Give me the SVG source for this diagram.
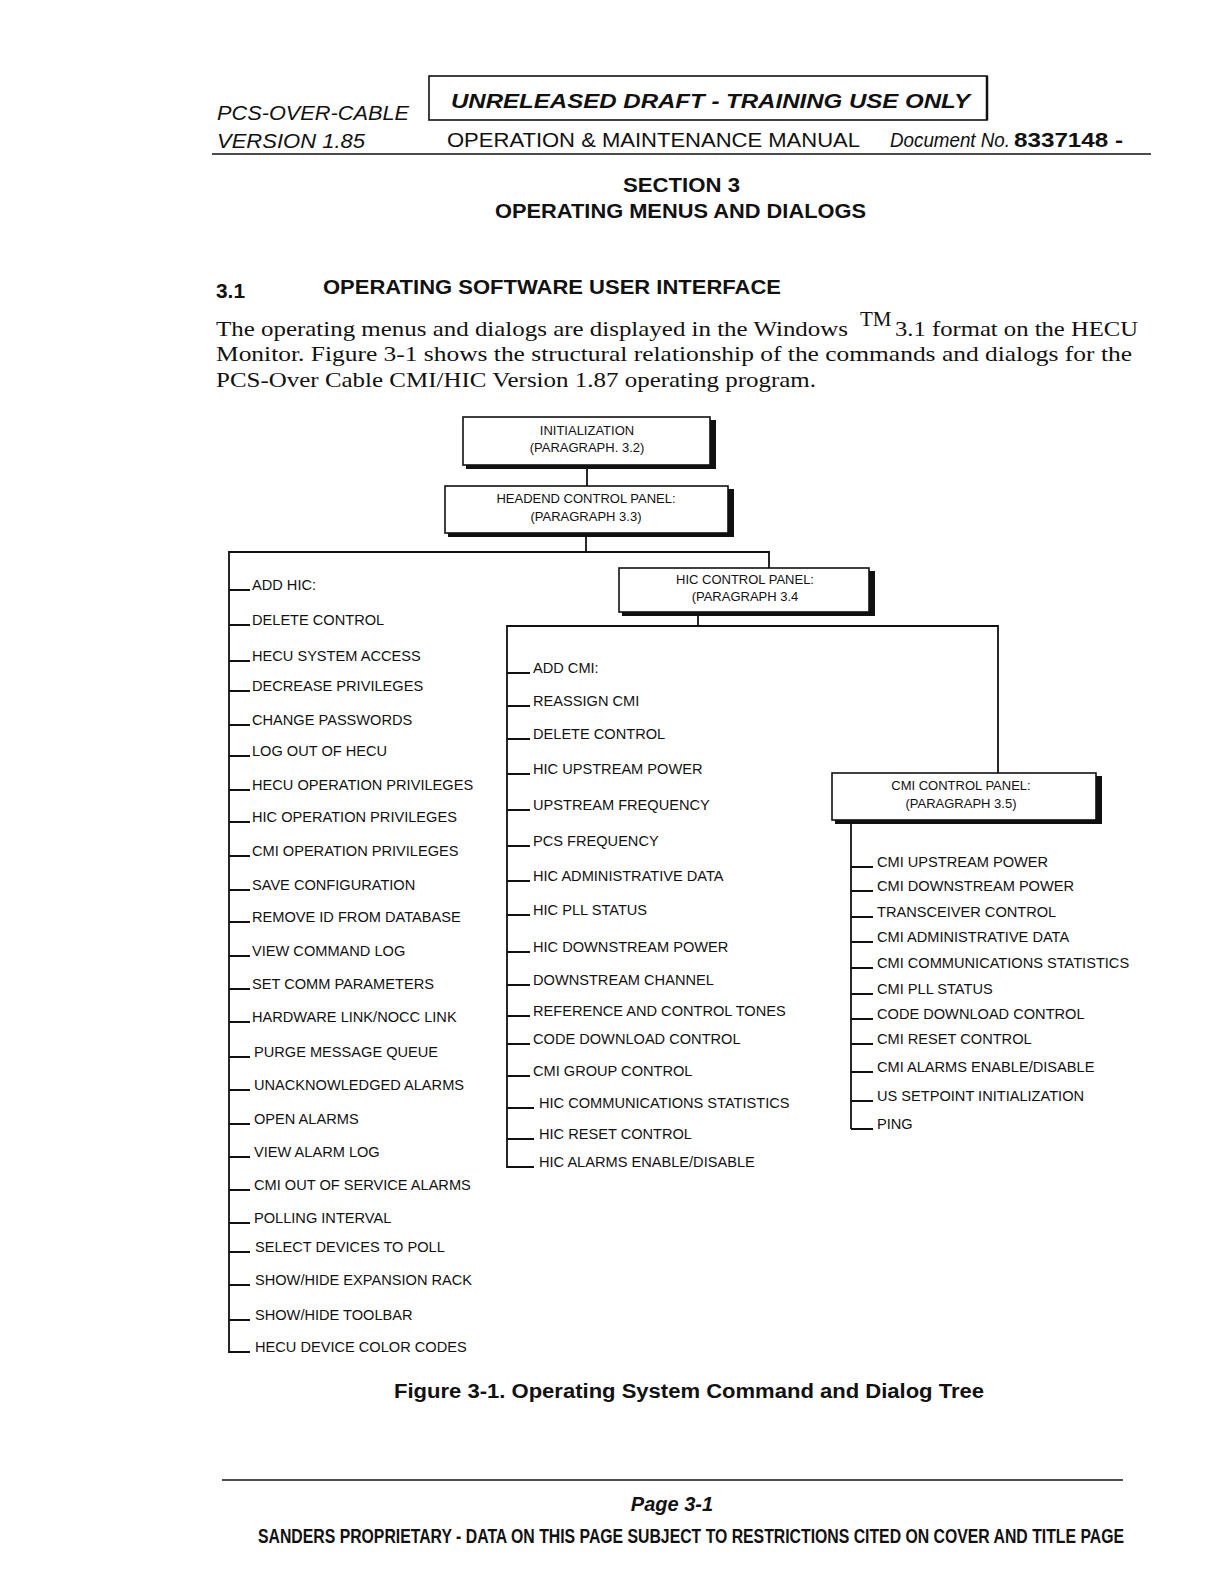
<svg xmlns="http://www.w3.org/2000/svg" width="1221" height="1584" viewBox="0 0 1221 1584">
<style>
.hdr{font-family:"Liberation Sans",Arial,sans-serif;font-size:20px;fill:#111}
.it{font-style:italic}
.b{font-weight:bold}
.ser{font-family:"Liberation Serif","Times New Roman",serif;font-size:21px;fill:#111}
.bx{font-family:"Liberation Sans",Arial,sans-serif;font-size:13px;fill:#111;text-anchor:middle}
.li{font-family:"Liberation Sans",Arial,sans-serif;font-size:14.6px;fill:#111}
.ln{stroke:#111;stroke-width:1.8;fill:none}
.box{fill:#fff;stroke:#111;stroke-width:1.6}
.sh{fill:#111}
</style>
<rect width="1221" height="1584" fill="#fff"/>

<!-- Header -->
<g id="header">
<text class="hdr it" x="217" y="120" textLength="192" lengthAdjust="spacingAndGlyphs">PCS-OVER-CABLE</text>
<text class="hdr it" x="217" y="148" textLength="148" lengthAdjust="spacingAndGlyphs">VERSION 1.85</text>
<rect x="429" y="76" width="558" height="44" fill="#fff" stroke="#111" stroke-width="1.6"/>
<line x1="987" y1="76" x2="987" y2="120" stroke="#111" stroke-width="2.5"/>
<text class="hdr it b" x="451" y="108" font-size="23" textLength="519" lengthAdjust="spacingAndGlyphs">UNRELEASED DRAFT - TRAINING USE ONLY</text>
<text class="hdr" x="447" y="147" textLength="413" lengthAdjust="spacingAndGlyphs">OPERATION &amp; MAINTENANCE MANUAL</text>
<text class="hdr it" x="890" y="147" textLength="120" lengthAdjust="spacingAndGlyphs">Document No.</text>
<text class="hdr b" x="1014" y="147" textLength="109" lengthAdjust="spacingAndGlyphs">8337148 -</text>
<line x1="212" y1="154" x2="1151" y2="154" stroke="#111" stroke-width="1.3"/>
</g>

<g id="section">
<text class="hdr b" x="623" y="192" textLength="117" lengthAdjust="spacingAndGlyphs">SECTION 3</text>
<text class="hdr b" x="495" y="218" textLength="371" lengthAdjust="spacingAndGlyphs">OPERATING MENUS AND DIALOGS</text>
<text class="hdr b" x="216" y="298" textLength="29" lengthAdjust="spacingAndGlyphs">3.1</text>
<text class="hdr b" x="323" y="294" textLength="458" lengthAdjust="spacingAndGlyphs">OPERATING SOFTWARE USER INTERFACE</text>
</g>

<g id="paragraph">
<text class="ser" x="216" y="336" textLength="632" lengthAdjust="spacingAndGlyphs">The operating menus and dialogs are displayed in the Windows</text>
<text class="ser" x="860" y="326" font-size="12">TM</text>
<text class="ser" x="895" y="336" textLength="243" lengthAdjust="spacingAndGlyphs">3.1 format on the HECU</text>
<text class="ser" x="216" y="361" textLength="916" lengthAdjust="spacingAndGlyphs">Monitor. Figure 3-1 shows the structural relationship of the commands and dialogs for the</text>
<text class="ser" x="216" y="387" textLength="600" lengthAdjust="spacingAndGlyphs">PCS-Over Cable CMI/HIC Version 1.87 operating program.</text>
</g>

<!-- Connectors -->
<g id="connectors" class="ln">
<line x1="587" y1="466" x2="587" y2="486"/>
<polyline points="586,533 586,552"/>
<polyline points="229,1353 229,552 769,552 769,568"/>
<line x1="698" y1="613" x2="698" y2="626"/>
<polyline points="507,1168 507,626 998,626 998,773"/>
<line x1="851" y1="821" x2="851" y2="1129"/>
<!-- left ticks -->
<path d="M229 590H250M229 625H250M229 661H250M229 691H250M229 725H250M229 756H250M229 790H250M229 822H250M229 856H250M229 890H250M229 922H250M229 956H250M229 989H250M229 1022H250M229 1057H250M229 1090H250M229 1124H250M229 1157H250M229 1190H250M229 1223H250M229 1252H250M229 1285H250M229 1320H250M229 1352H250"/>
<!-- HIC ticks -->
<path d="M507 673H530M507 706H530M507 739H530M507 774H530M507 810H530M507 846H530M507 881H530M507 915H530M507 952H530M507 985H530M507 1016H530M507 1044H530M507 1076H530M507 1108H534M507 1139H534M507 1167H534"/>
<!-- CMI ticks -->
<path d="M851 867H873M851 891H873M851 917H873M851 942H873M851 968H873M851 994H873M851 1019H873M851 1044H873M851 1072H873M851 1101H873M851 1129H873"/>
</g>

<!-- Nodes -->
<g id="node-init">
<rect class="sh" x="466" y="420" width="250" height="49"/>
<rect class="box" x="463" y="417" width="247" height="48"/>
<text class="bx" x="587" y="435">INITIALIZATION</text>
<text class="bx" x="587" y="452">(PARAGRAPH. 3.2)</text>
</g>
<g id="node-headend">
<rect class="sh" x="448" y="489" width="286" height="48"/>
<rect class="box" x="445" y="486" width="283" height="47"/>
<text class="bx" x="586" y="503">HEADEND CONTROL PANEL:</text>
<text class="bx" x="586" y="521">(PARAGRAPH 3.3)</text>
</g>
<g id="node-hic">
<rect class="sh" x="622" y="571" width="253" height="45"/>
<rect class="box" x="619" y="568" width="250" height="44"/>
<text class="bx" x="745" y="584">HIC CONTROL PANEL:</text>
<text class="bx" x="745" y="601">(PARAGRAPH 3.4</text>
</g>
<g id="node-cmi">
<rect class="sh" x="835" y="776" width="267" height="48"/>
<rect class="box" x="832" y="773" width="264" height="47"/>
<text class="bx" x="961" y="790">CMI CONTROL PANEL:</text>
<text class="bx" x="961" y="808">(PARAGRAPH 3.5)</text>
</g>

<g id="headend-items" class="li">
<text x="252" y="590">ADD HIC:</text>
<text x="252" y="625">DELETE CONTROL</text>
<text x="252" y="661">HECU SYSTEM ACCESS</text>
<text x="252" y="691">DECREASE  PRIVILEGES</text>
<text x="252" y="725">CHANGE  PASSWORDS</text>
<text x="252" y="756">LOG OUT OF HECU</text>
<text x="252" y="790">HECU OPERATION PRIVILEGES</text>
<text x="252" y="822">HIC OPERATION PRIVILEGES</text>
<text x="252" y="856">CMI OPERATION PRIVILEGES</text>
<text x="252" y="890">SAVE CONFIGURATION</text>
<text x="252" y="922">REMOVE ID FROM DATABASE</text>
<text x="252" y="956">VIEW COMMAND LOG</text>
<text x="252" y="989">SET COMM  PARAMETERS</text>
<text x="252" y="1022">HARDWARE LINK/NOCC LINK</text>
<text x="254" y="1057">PURGE MESSAGE QUEUE</text>
<text x="254" y="1090">UNACKNOWLEDGED ALARMS</text>
<text x="254" y="1124">OPEN ALARMS</text>
<text x="254" y="1157">VIEW ALARM LOG</text>
<text x="254" y="1190">CMI OUT OF SERVICE ALARMS</text>
<text x="254" y="1223">POLLING INTERVAL</text>
<text x="255" y="1252">SELECT DEVICES TO POLL</text>
<text x="255" y="1285">SHOW/HIDE EXPANSION RACK</text>
<text x="255" y="1320">SHOW/HIDE TOOLBAR</text>
<text x="255" y="1352">HECU DEVICE COLOR CODES</text>
</g>

<g id="hic-items" class="li">
<text x="533" y="673">ADD  CMI:</text>
<text x="533" y="706">REASSIGN  CMI</text>
<text x="533" y="739">DELETE  CONTROL</text>
<text x="533" y="774">HIC UPSTREAM POWER</text>
<text x="533" y="810">UPSTREAM FREQUENCY</text>
<text x="533" y="846">PCS FREQUENCY</text>
<text x="533" y="881">HIC ADMINISTRATIVE DATA</text>
<text x="533" y="915">HIC PLL STATUS</text>
<text x="533" y="952">HIC DOWNSTREAM POWER</text>
<text x="533" y="985">DOWNSTREAM CHANNEL</text>
<text x="533" y="1016">REFERENCE AND CONTROL TONES</text>
<text x="533" y="1044">CODE DOWNLOAD CONTROL</text>
<text x="533" y="1076">CMI GROUP CONTROL</text>
<text x="539" y="1108">HIC COMMUNICATIONS STATISTICS</text>
<text x="539" y="1139">HIC RESET CONTROL</text>
<text x="539" y="1167">HIC ALARMS ENABLE/DISABLE</text>
</g>

<g id="cmi-items" class="li">
<text x="877" y="867">CMI UPSTREAM POWER</text>
<text x="877" y="891">CMI DOWNSTREAM POWER</text>
<text x="877" y="917">TRANSCEIVER CONTROL</text>
<text x="877" y="942">CMI ADMINISTRATIVE DATA</text>
<text x="877" y="968">CMI COMMUNICATIONS STATISTICS</text>
<text x="877" y="994">CMI PLL STATUS</text>
<text x="877" y="1019">CODE DOWNLOAD CONTROL</text>
<text x="877" y="1044">CMI RESET CONTROL</text>
<text x="877" y="1072">CMI ALARMS ENABLE/DISABLE</text>
<text x="877" y="1101">US SETPOINT INITIALIZATION</text>
<text x="877" y="1129">PING</text>
</g>

<g id="caption">
<text class="hdr b" x="394" y="1398" font-size="21" textLength="590" lengthAdjust="spacingAndGlyphs">Figure 3-1. Operating System Command and Dialog Tree</text>
</g>

<g id="footer">
<line x1="222" y1="1480" x2="1123" y2="1480" stroke="#111" stroke-width="1.3"/>
<text class="hdr b it" x="672" y="1511" font-size="18" text-anchor="middle">Page 3-1</text>
<text class="hdr b" x="258" y="1543" font-size="13" textLength="866" lengthAdjust="spacingAndGlyphs">SANDERS PROPRIETARY - DATA ON THIS PAGE SUBJECT TO RESTRICTIONS CITED ON COVER AND TITLE PAGE</text>
</g>
</svg>
